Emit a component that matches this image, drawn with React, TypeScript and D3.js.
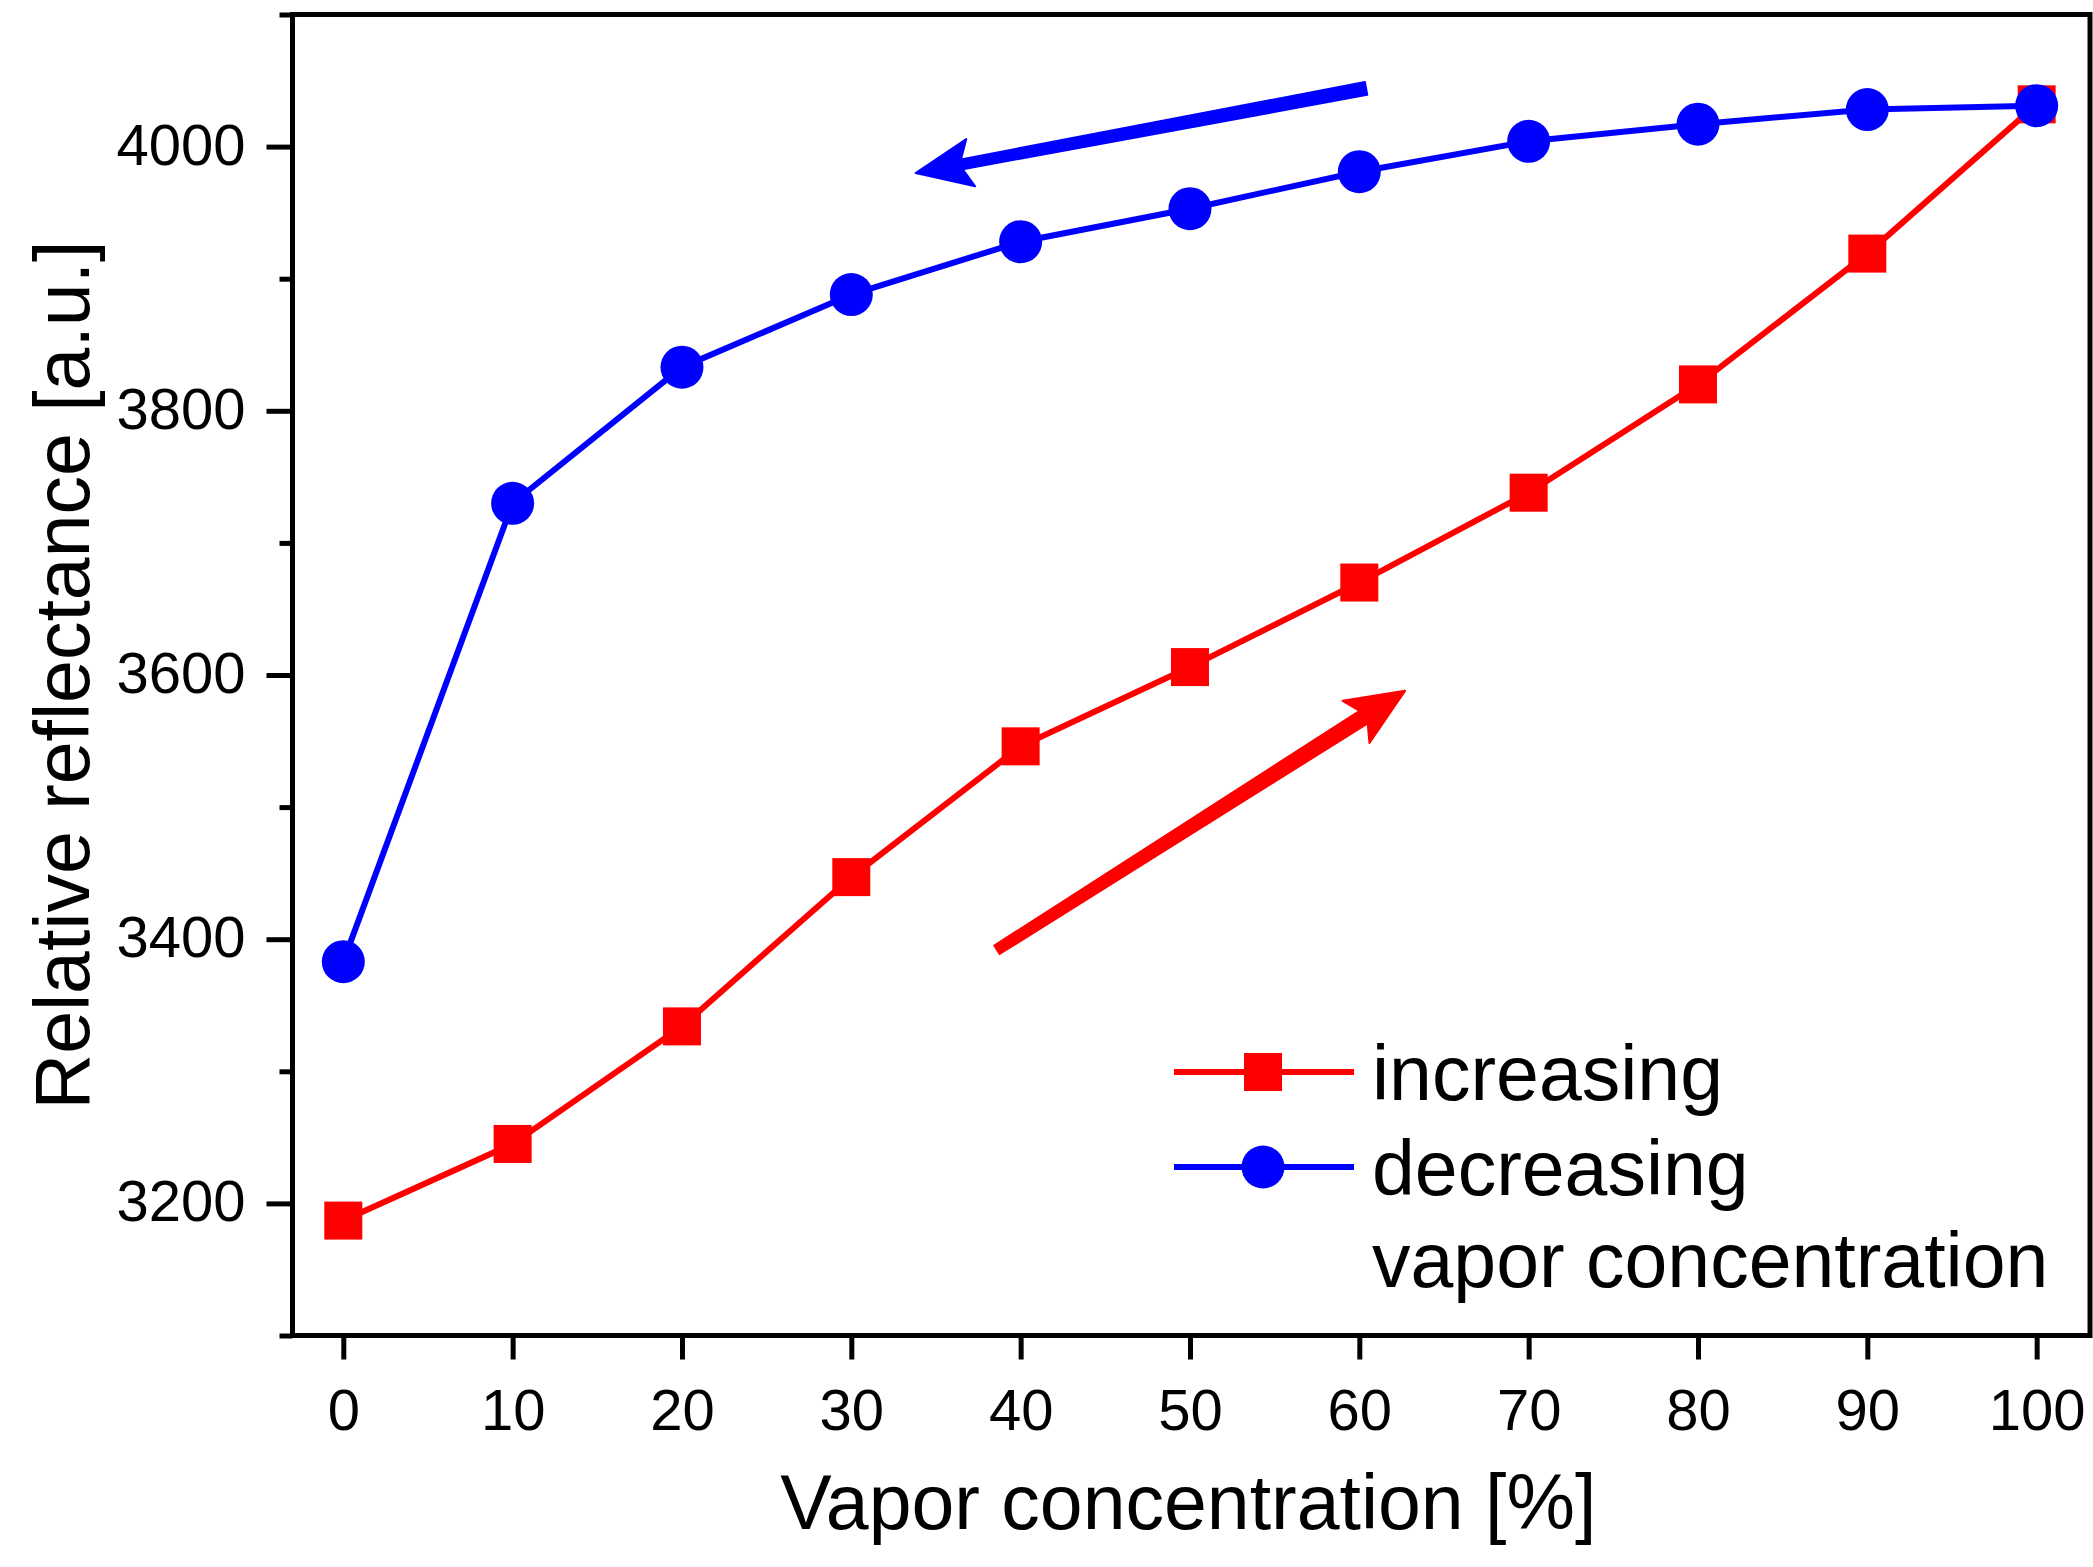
import { useEffect, useRef } from 'react';
import * as d3 from 'd3';

// vapor concentration steps [%]
const concentration = [0, 10, 20, 30, 40, 50, 60, 70, 80, 90, 100];
// relative reflectance [a.u.]
const increasing = [3187, 3245, 3334, 3447, 3546, 3606, 3670, 3738, 3820, 3919, 4032];
const decreasing = [3383, 3730, 3833, 3888, 3928, 3953, 3981, 4004, 4017, 4028, 4031];

const yMajor = [3200, 3400, 3600, 3800, 4000];
const yMinor = [3100, 3300, 3500, 3700, 3900, 4100];
const xTicks = [0, 10, 20, 30, 40, 50, 60, 70, 80, 90, 100];

// annotation arrows, [concentration, reflectance] tail -> tip
const upArrow: [number, number][] = [[38.6, 3392], [62.7, 3588]];
const downArrow: [number, number][] = [[60.4, 4044], [33.8, 3980]];

const legendLabels = ['increasing', 'decreasing'];
const legendNote = 'vapor concentration';

const RED = '#ff0000';
const BLUE = '#0000ff';
const FONT = '"Liberation Sans", Arial, Helvetica, sans-serif';

export default function App() {
  const svgRef = useRef<SVGSVGElement>(null);

  useEffect(() => {
    if (!svgRef.current) return;
    const svg = d3.select(svgRef.current);
    svg.selectAll('*').remove();

    const W = 2093;
    const H = 1567;
    const left = 292.5, right = 2090, top = 14.5, bottom = 1335.5;

    svg.append('rect').attr('width', W).attr('height', H).attr('fill', '#fff');

    const x = d3.scaleLinear().domain([-3, 103.15]).range([left, right]);
    const y = d3.scaleLinear().domain([3100, 4100]).range([bottom, top]);

    // minor y ticks
    svg.append('g')
      .attr('transform', `translate(${left},0)`)
      .call(d3.axisLeft(y).tickValues(yMinor).tickSize(13).tickFormat(() => ''))
      .call(g => g.select('.domain').remove())
      .call(g => g.selectAll('.tick line').attr('stroke', '#000').attr('stroke-width', 5));

    // major y ticks
    svg.append('g')
      .attr('transform', `translate(${left},0)`)
      .call(d3.axisLeft(y).tickValues(yMajor).tickSize(26).tickPadding(21).tickFormat(d3.format('d')))
      .call(g => g.select('.domain').remove())
      .call(g => g.selectAll('.tick line').attr('stroke', '#000').attr('stroke-width', 5))
      .call(g => g.selectAll('.tick text')
        .attr('fill', '#000')
        .attr('font-family', FONT)
        .attr('font-size', 58)
        .attr('dy', '0.3em'));

    // x ticks
    svg.append('g')
      .attr('transform', `translate(0,${bottom})`)
      .call(d3.axisBottom(x).tickValues(xTicks).tickSize(24).tickPadding(29).tickFormat(d3.format('d')))
      .call(g => g.select('.domain').remove())
      .call(g => g.selectAll('.tick line').attr('stroke', '#000').attr('stroke-width', 5))
      .call(g => g.selectAll('.tick text')
        .attr('fill', '#000')
        .attr('font-family', FONT)
        .attr('font-size', 58));

    // frame
    svg.append('rect')
      .attr('x', left).attr('y', top)
      .attr('width', right - left).attr('height', bottom - top)
      .attr('fill', 'none').attr('stroke', '#000').attr('stroke-width', 5);

    // series
    const line = d3.line<number>()
      .x((_, i) => x(concentration[i]))
      .y(d => y(d));

    const sq = 38;
    const r = 21.5;

    svg.append('path').datum(increasing)
      .attr('fill', 'none').attr('stroke', RED).attr('stroke-width', 6)
      .attr('d', line);
    svg.append('g').selectAll('rect').data(increasing).join('rect')
      .attr('x', (_, i) => x(concentration[i]) - sq / 2)
      .attr('y', d => y(d) - sq / 2)
      .attr('width', sq).attr('height', sq)
      .attr('fill', RED);

    svg.append('path').datum(decreasing)
      .attr('fill', 'none').attr('stroke', BLUE).attr('stroke-width', 6)
      .attr('d', line);
    svg.append('g').selectAll('circle').data(decreasing).join('circle')
      .attr('cx', (_, i) => x(concentration[i]))
      .attr('cy', d => y(d))
      .attr('r', r)
      .attr('fill', BLUE);

    // arrows (tapered shaft, slightly swept-back head)
    const arrowPath = (pts: [number, number][], w0: number, w1: number, headLen: number, headHalf: number) => {
      const [x0, y0] = [x(pts[0][0]), y(pts[0][1])];
      const [x1, y1] = [x(pts[1][0]), y(pts[1][1])];
      const len = Math.hypot(x1 - x0, y1 - y0);
      const ux = (x1 - x0) / len, uy = (y1 - y0) / len;
      const nx = -uy, ny = ux;
      const bx = x1 - ux * headLen, by = y1 - uy * headLen;
      const jx = bx + ux * 9, jy = by + uy * 9;
      const p = d3.path();
      p.moveTo(x0 + nx * w0 / 2, y0 + ny * w0 / 2);
      p.lineTo(jx + nx * w1 / 2, jy + ny * w1 / 2);
      p.lineTo(bx + nx * headHalf, by + ny * headHalf);
      p.lineTo(x1, y1);
      p.lineTo(bx - nx * headHalf, by - ny * headHalf);
      p.lineTo(jx - nx * w1 / 2, jy - ny * w1 / 2);
      p.lineTo(x0 - nx * w0 / 2, y0 - ny * w0 / 2);
      p.closePath();
      return p.toString();
    };

    svg.append('path')
      .attr('d', arrowPath(upArrow, 10, 15, 58, 25))
      .attr('fill', RED).attr('stroke', RED).attr('stroke-width', 2).attr('stroke-linejoin', 'round');
    svg.append('path')
      .attr('d', arrowPath(downArrow, 13, 10, 56, 24))
      .attr('fill', BLUE).attr('stroke', BLUE).attr('stroke-width', 2).attr('stroke-linejoin', 'round');

    // legend
    const legend = svg.append('g').attr('font-family', FONT).attr('font-size', 77).attr('fill', '#000');
    const rowY = [1072, 1167];
    const colors = [RED, BLUE];
    legendLabels.forEach((label, i) => {
      legend.append('line')
        .attr('x1', 1174).attr('x2', 1354)
        .attr('y1', rowY[i]).attr('y2', rowY[i])
        .attr('stroke', colors[i]).attr('stroke-width', 6);
      if (i === 0) {
        legend.append('rect')
          .attr('x', 1263 - sq / 2).attr('y', rowY[i] - sq / 2)
          .attr('width', sq).attr('height', sq).attr('fill', RED);
      } else {
        legend.append('circle')
          .attr('cx', 1263).attr('cy', rowY[i]).attr('r', r).attr('fill', BLUE);
      }
      legend.append('text').attr('x', 1372).attr('y', rowY[i] + 28).text(label);
    });
    legend.append('text').attr('x', 1372).attr('y', 1287).text(legendNote);

    // axis titles
    svg.append('text')
      .attr('x', (left + right) / 2 - 3)
      .attr('y', 1529)
      .attr('text-anchor', 'middle')
      .attr('font-family', FONT).attr('font-size', 77)
      .text('Vapor concentration [%]');

    svg.append('text')
      .attr('transform', `translate(89,${(top + bottom) / 2}) rotate(-90)`)
      .attr('text-anchor', 'middle')
      .attr('font-family', FONT).attr('font-size', 77)
      .text('Relative reflectance [a.u.]');
  }, []);

  return (
    <svg
      ref={svgRef}
      width={2093}
      height={1567}
      style={{ position: 'absolute', left: 0, top: 0, display: 'block' }}
    />
  );
}
